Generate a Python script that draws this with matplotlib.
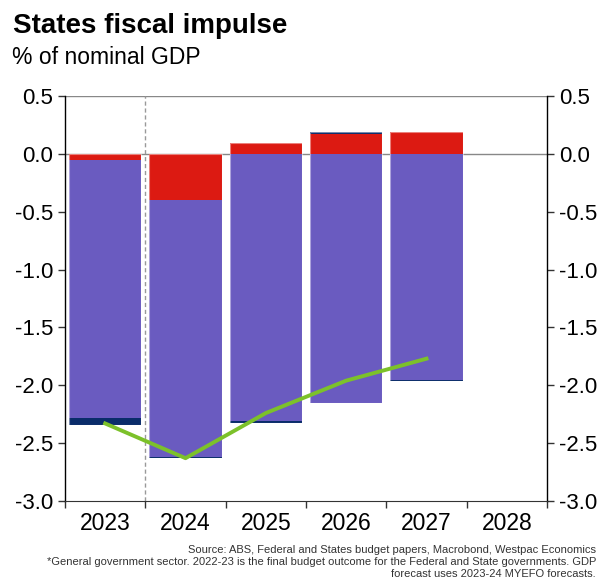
import matplotlib
matplotlib.use("Agg")
import matplotlib.pyplot as plt
from matplotlib.ticker import FuncFormatter
import numpy as np

plt.rcParams['font.family'] = ['Liberation Sans', 'DejaVu Sans']

years = ['2023', '2024', '2025', '2026', '2027', '2028']
red_part = [-0.05, -0.40, 0.09, 0.17, 0.19]
purple_part = [-2.23, -2.22, -2.31, -2.15, -1.95]
navy_part = [-0.06, -0.01, -0.02, 0.02, -0.01]
total_line = [-2.33, -2.63, -2.24, -1.96, -1.77]

RED = '#DC1A12'
PURPLE = '#6A5BC0'
NAVY = '#0A2C6A'
GREEN = '#7CC12A'

fig = plt.figure(figsize=(5.99, 5.79), dpi=100)
ax = fig.add_axes([65 / 599, 1 - 501 / 579, 482 / 599, 405 / 579])

x = np.arange(len(red_part))
w = 0.9

# stack positives upward and negatives downward
pos_base = np.zeros(len(x))
neg_base = np.zeros(len(x))
for vals, col in [(red_part, RED), (purple_part, PURPLE), (navy_part, NAVY)]:
    vals = np.array(vals)
    base = np.where(vals >= 0, pos_base, neg_base)
    ax.bar(x, vals, w, bottom=base, color=col, linewidth=0, zorder=2)
    pos_base = pos_base + np.where(vals >= 0, vals, 0)
    neg_base = neg_base + np.where(vals < 0, vals, 0)

# faint light outline around each full bar
ax.bar(x, pos_base - neg_base, w, bottom=neg_base, facecolor='none',
       edgecolor=(1, 1, 1, 0.45), linewidth=0.8, zorder=2.5)

ax.plot(x, total_line, color=GREEN, linewidth=2.8, zorder=3)

ax.axhline(0, color='#888888', linewidth=1, zorder=1)
ax.axhline(0.5, color='#888888', linewidth=1, zorder=1)
ax.axvline(0.5, color='#999999', linewidth=1, linestyle=(0, (3, 2)), zorder=1)

ax.set_xlim(-0.5, 5.5)
ax.set_ylim(-3.0, 0.5)

ax.set_xticks(np.arange(-0.5, 6.0, 1.0))
ax.set_xticklabels([])
ax.set_xticks(np.arange(len(years)), minor=True)
ax.set_xticklabels(years, minor=True)
ax.tick_params(axis='x', which='major', length=5, width=1, color='#333333')
ax.tick_params(axis='x', which='minor', length=0, labelsize=16.5, pad=8)

yt = np.arange(-3.0, 0.51, 0.5)
ax.set_yticks(yt)
ax.yaxis.set_major_formatter(FuncFormatter(lambda v, p: f'{v:.1f}'.replace('\u2212', '-')))
ax.tick_params(axis='y', which='major', length=5, width=1, labelsize=16,
               left=True, right=True, labelleft=True, labelright=True, color='#333333')

ax.spines['top'].set_visible(False)
for s in ['left', 'right']:
    ax.spines[s].set_color('black')
    ax.spines[s].set_linewidth(1)
ax.spines['bottom'].set_color('#333333')

fig.text(13 / 599, 1 - 26 / 579, 'States fiscal impulse', fontsize=20, fontweight='bold', va='center')
fig.text(12 / 599, 1 - 57 / 579, '% of nominal GDP', fontsize=16.5, va='center')

notes = ['Source: ABS, Federal and States budget papers, Macrobond, Westpac Economics',
         '*General government sector. 2022-23 is the final budget outcome for the Federal and State governments. GDP',
         'forecast uses 2023-24 MYEFO forecasts.']
for i, line in enumerate(notes):
    fig.text(596 / 599, 1 - (550 + 12 * i) / 579, line, fontsize=8, ha='right', va='center', color='#333333')

fig.savefig('out.png', dpi=100)
